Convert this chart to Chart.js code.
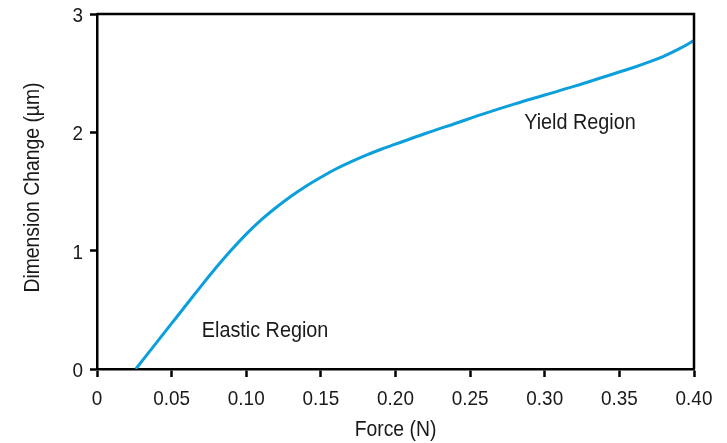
<!DOCTYPE html>
<html lang="en">
<head>
    <meta charset="UTF-8">
    <title>Dimension Change vs Force</title>
    <script src="https://cdn.jsdelivr.net/npm/chart.js@4.4.0/dist/chart.umd.min.js"></script>
    <style>
        body {
            margin: 0;
            background: #fff;
        }
        #wrap {
            width: 727px;
            height: 443px;
        }
    </style>
</head>
<body>
    <div id="wrap">
        <canvas id="chart" width="727" height="443"></canvas>
    </div>

    <script>
        // force (N) and dimension change (um)
        const force = [0.026, 0.04, 0.05, 0.06, 0.07, 0.08, 0.09, 0.10, 0.11, 0.12, 0.13, 0.14,
                       0.15, 0.16, 0.17, 0.18, 0.19, 0.20, 0.22, 0.24, 0.26, 0.28, 0.30, 0.32,
                       0.34, 0.36, 0.37, 0.38, 0.39, 0.40];
        const dimChange = [0, 0.225, 0.385, 0.545, 0.705, 0.86, 1.005, 1.14, 1.26, 1.365, 1.46, 1.545,
                           1.62, 1.69, 1.75, 1.805, 1.855, 1.90, 1.99, 2.075, 2.16, 2.24, 2.315, 2.39,
                           2.47, 2.55, 2.595, 2.645, 2.705, 2.775];
        const xTicks = [0, 0.05, 0.10, 0.15, 0.20, 0.25, 0.30, 0.35, 0.40];
        const yTicks = [0, 1, 2, 3];
        const regionLabels = ['Elastic Region', 'Yield Region'];
        const regionX = [0.1126, 0.3236];
        const regionY = [0.273, 2.024];

        const FONT = "'Liberation Sans', Arial, sans-serif";
        const SQUEEZE = 0.9;   // reference type is a condensed sans

        function narrowText(ctx, text, x, y, size, align, angle) {
            ctx.save();
            ctx.translate(x, y);
            if (angle) ctx.rotate(angle);
            ctx.scale(SQUEEZE, 1);
            ctx.font = size + 'px ' + FONT;
            ctx.fillStyle = '#1a1a1a';
            ctx.textAlign = align;
            ctx.textBaseline = 'alphabetic';
            ctx.fillText(text, 0, 0);
            ctx.restore();
        }

        const frame = {
            id: 'frame',
            afterDraw(chart) {
                const {ctx, chartArea: a, scales} = chart;
                ctx.save();
                ctx.strokeStyle = '#000';
                ctx.lineWidth = 2.5;
                ctx.beginPath();
                ctx.moveTo(a.left, a.top);
                ctx.lineTo(a.right, a.top);
                ctx.lineTo(a.right, a.bottom);
                ctx.stroke();
                ctx.restore();

                // tick labels
                xTicks.forEach(v => {
                    narrowText(ctx, v === 0 ? '0' : v.toFixed(2), scales.x.getPixelForValue(v), a.bottom + 36, 21, 'center');
                });
                yTicks.forEach(v => {
                    narrowText(ctx, String(v), a.left - 14, scales.y.getPixelForValue(v) + 8, 21, 'right');
                });

                // axis titles
                narrowText(ctx, 'Force (N)', (a.left + a.right) / 2, 436, 21.5, 'center');
                narrowText(ctx, 'Dimension Change (µm)', 39, (a.top + a.bottom) / 2 - 4, 21.5, 'center', -Math.PI / 2);
            }
        };

        const regionText = {
            id: 'regionText',
            afterDatasetsDraw(chart) {
                const {ctx, scales} = chart;
                regionLabels.forEach((t, i) => {
                    narrowText(ctx, t, scales.x.getPixelForValue(regionX[i]), scales.y.getPixelForValue(regionY[i]), 22, 'center');
                });
            }
        };

        new Chart(document.getElementById('chart'), {
            type: 'line',
            data: {
                datasets: [{
                    data: force.map((f, i) => ({x: f, y: dimChange[i]})),
                    borderColor: '#0b9fdb',
                    borderWidth: 3,
                    pointRadius: 0,
                    tension: 0.4,
                    fill: false
                }]
            },
            options: {
                responsive: false,
                animation: false,
                layout: {padding: {top: 14, right: 33, left: 0, bottom: 0}},
                plugins: {
                    legend: {display: false},
                    tooltip: {enabled: false}
                },
                scales: {
                    x: {
                        type: 'linear',
                        min: 0,
                        max: 0.4,
                        afterBuildTicks: s => { s.ticks = xTicks.map(v => ({value: v})); },
                        afterFit: s => { s.height = 74; },
                        ticks: {display: false},
                        grid: {
                            drawOnChartArea: false,
                            drawTicks: true,
                            tickLength: 8,
                            tickWidth: 2.5,
                            tickColor: '#000'
                        },
                        border: {color: '#000', width: 2.5}
                    },
                    y: {
                        min: 0,
                        max: 3,
                        afterBuildTicks: s => { s.ticks = yTicks.map(v => ({value: v})); },
                        afterFit: s => { s.width = 97; },
                        ticks: {display: false},
                        grid: {
                            drawOnChartArea: false,
                            drawTicks: true,
                            tickLength: 7,
                            tickWidth: 2.5,
                            tickColor: '#000'
                        },
                        border: {color: '#000', width: 2.5}
                    }
                }
            },
            plugins: [frame, regionText]
        });
    </script>
</body>
</html>
